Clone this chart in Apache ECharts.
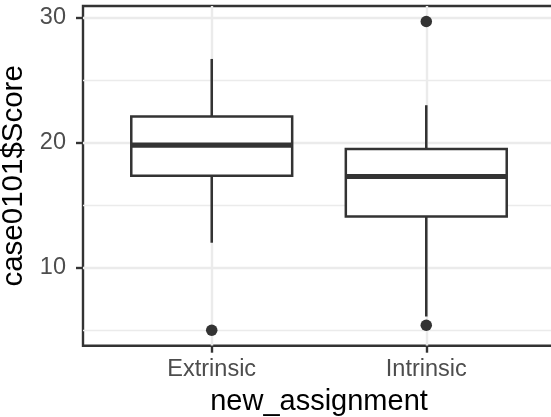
<!DOCTYPE html>
<html>
<head>
<meta charset="utf-8">
<script src="https://cdn.jsdelivr.net/npm/echarts@6/dist/echarts.min.js"></script>
<style>
  html, body { margin: 0; padding: 0; background: #ffffff; }
  #chart { width: 551px; height: 417px; }
</style>
</head>
<body>
<div id="chart"></div>
<script>
// Five-number summaries of creativity score by (re-)assigned group
const categories = ['Extrinsic', 'Intrinsic'];
const whiskerLow = [12.0, 6.1];
const quartile1 = [17.35, 14.1];
const medians = [19.8, 17.3];
const quartile3 = [22.1, 19.5];
const whiskerHigh = [26.7, 23.0];

// Points beyond the whiskers: group index and score
const outlierGroup = [0, 1, 1];
const outlierScore = [5.0, 29.7, 5.4];

// Axis breaks
const majorBreaks = [10, 20, 30];
const minorBreaks = [5, 15, 25];
const groupPositions = categories.map((c, i) => i + 1);

const FONT = '"Liberation Sans", Arial, Helvetica, sans-serif';
const INK = '#333333';
const GRID = '#EBEBEB';

// Continuous score limits expanded by 5% of the data range
const scoreLo = Math.min(...outlierScore, ...whiskerLow);
const scoreHi = Math.max(...outlierScore, ...whiskerHigh);
const pad = (scoreHi - scoreLo) * 0.05;
const yMin = scoreLo - pad;
const yMax = scoreHi + pad;

const boxRows = categories.map((c, i) => [
  i + 1, whiskerLow[i], quartile1[i], medians[i], quartile3[i], whiskerHigh[i]
]);
const outlierRows = outlierGroup.map((g, i) => [g + 1, outlierScore[i]]);

function renderBox(params, api) {
  const x = api.value(0);
  const pLow = api.coord([x, api.value(1)]);
  const pQ1 = api.coord([x, api.value(2)]);
  const pMed = api.coord([x, api.value(3)]);
  const pQ3 = api.coord([x, api.value(4)]);
  const pHigh = api.coord([x, api.value(5)]);
  const half = api.size([0.75, 0])[0] / 2;
  const cx = pMed[0];
  const stroke = { stroke: INK, lineWidth: 2.5 };
  return {
    type: 'group',
    children: [
      { type: 'line', shape: { x1: cx, y1: pHigh[1], x2: cx, y2: pQ3[1] }, style: stroke },
      { type: 'line', shape: { x1: cx, y1: pQ1[1], x2: cx, y2: pLow[1] }, style: stroke },
      {
        type: 'rect',
        shape: { x: cx - half, y: pQ3[1], width: half * 2, height: pQ1[1] - pQ3[1] },
        style: { fill: '#ffffff', stroke: INK, lineWidth: 2.5 }
      },
      {
        type: 'line',
        shape: { x1: cx - half, y1: pMed[1], x2: cx + half, y2: pMed[1] },
        style: { stroke: INK, lineWidth: 5.2 }
      }
    ]
  };
}

const chart = echarts.init(document.getElementById('chart'), null, { renderer: 'canvas' });
chart.setOption({
  animation: false,
  backgroundColor: '#ffffff',
  grid: {
    left: 83, top: 6, width: 472, height: 339.7,
    containLabel: false, outerBoundsMode: 'none',
    show: true, borderColor: INK, borderWidth: 2.4, backgroundColor: 'transparent'
  },
  xAxis: {
    type: 'value', min: 0.4, max: 2.6,
    name: 'new_assignment', nameLocation: 'middle', nameGap: 42,
    nameTextStyle: { color: '#000000', fontSize: 29, fontFamily: FONT },
    axisLine: { show: false },
    axisTick: { show: true, length: 7, customValues: groupPositions, lineStyle: { color: INK, width: 2.4 } },
    axisLabel: {
      customValues: groupPositions, margin: 12,
      color: '#4D4D4D', fontSize: 23.5, fontFamily: FONT,
      formatter: v => categories[Math.round(v) - 1] || ''
    },
    splitLine: { show: true, lineStyle: { color: GRID, width: 2.4 } }
  },
  yAxis: [
    {
      type: 'value', min: yMin, max: yMax,
      name: 'case0101$Score', nameLocation: 'middle', nameRotate: 90, nameGap: 45,
      nameTextStyle: { color: '#000000', fontSize: 29.5, fontFamily: FONT },
      axisLine: { show: false },
      axisTick: { show: true, length: 7, customValues: majorBreaks, lineStyle: { color: INK, width: 2.4 } },
      axisLabel: { customValues: majorBreaks, margin: 17, color: '#4D4D4D', fontSize: 23.5, fontFamily: FONT },
      splitLine: { show: true, lineStyle: { color: GRID, width: 2.4 } }
    },
    {
      type: 'value', min: yMin, max: yMax, position: 'left',
      axisLine: { show: false },
      axisTick: { show: false, customValues: minorBreaks },
      axisLabel: { show: false, customValues: minorBreaks },
      splitLine: { show: true, lineStyle: { color: GRID, width: 1.3 } }
    }
  ],
  series: [
    {
      type: 'custom',
      name: 'box',
      renderItem: renderBox,
      encode: { x: 0, y: [1, 2, 3, 4, 5] },
      data: boxRows,
      z: 2
    },
    {
      type: 'scatter',
      name: 'outliers',
      data: outlierRows,
      symbol: 'circle',
      symbolSize: 11.5,
      itemStyle: { color: INK, opacity: 1 },
      z: 3
    }
  ]
});
</script>
</body>
</html>
